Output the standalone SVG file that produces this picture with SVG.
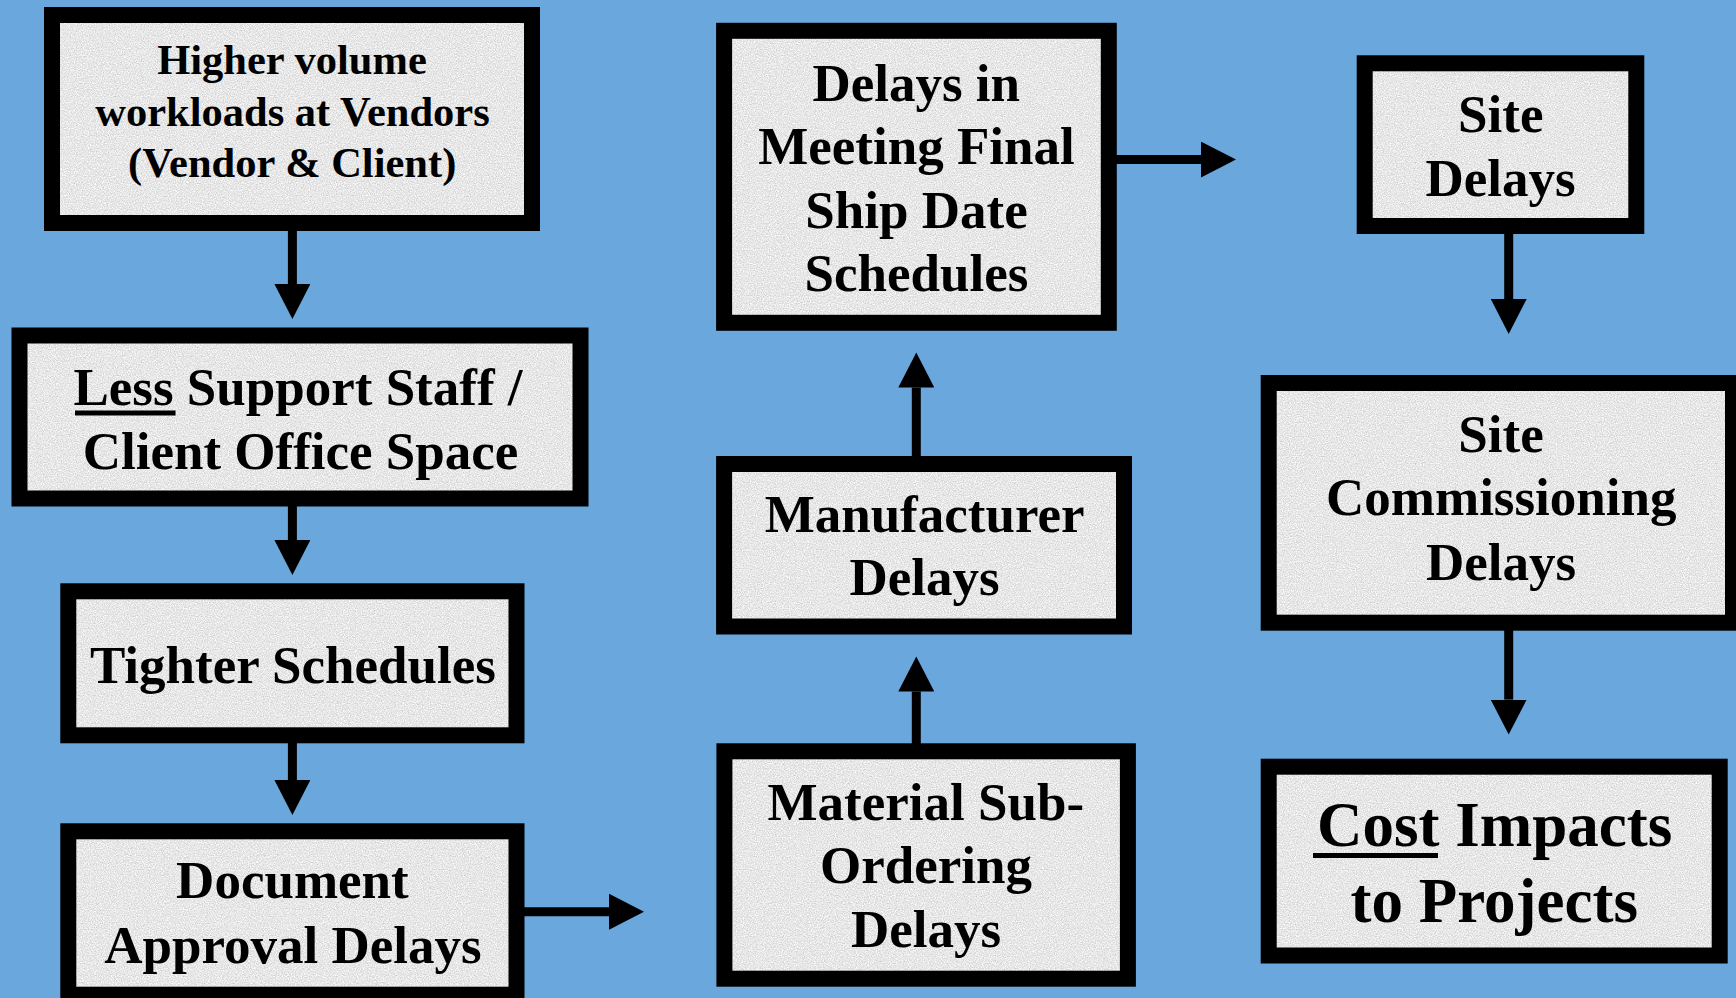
<svg xmlns="http://www.w3.org/2000/svg" width="1736" height="998" viewBox="0 0 1736 998">
<style>
.box{fill:none;stroke:#000;stroke-width:16}
.fill{fill:#e6e6e6;filter:url(#granite)}
.t{font-family:"Liberation Serif","Times New Roman",serif;font-weight:bold;fill:#000;text-anchor:middle}
.f42{font-size:42.5px}
.f53{font-size:53px}
.f63{font-size:63px}
.c{fill:none;stroke:#000;stroke-width:9;marker-end:url(#ah)}
.ul{stroke:#000;stroke-width:5}
</style>
<defs>
<filter id="granite" x="0" y="0" width="1" height="1" color-interpolation-filters="sRGB">
<feTurbulence type="fractalNoise" baseFrequency="0.85" numOctaves="2" seed="7" result="n"/>
<feColorMatrix in="n" type="matrix" values="0.32 0 0 0 0.745  0.32 0 0 0 0.745  0.32 0 0 0 0.745  0 0 0 0 1" result="g"/>
<feComposite in="g" in2="SourceGraphic" operator="in"/>
</filter>
<marker id="ah" markerUnits="userSpaceOnUse" markerWidth="36" markerHeight="36" refX="0" refY="18" orient="auto" viewBox="0 0 36 36">
<path d="M0,0 L35,18 L0,36 Z" fill="#000"/>
</marker>
</defs>
<rect x="0" y="0" width="1736" height="998" fill="#69a7dd"/>

<g id="connectors">
<path class="c" d="M292.4,231 V284"/>
<path class="c" d="M292.4,506 V540"/>
<path class="c" d="M292.4,743 V780"/>
<path class="c" d="M524,911.7 H609"/>
<path class="c" d="M916.3,744 V691.5"/>
<path class="c" d="M916.3,456 V387.5"/>
<path class="c" d="M1116,159.6 H1201"/>
<path class="c" d="M1508.7,234 V299"/>
<path class="c" d="M1508.7,630 V699.6"/>
</g>

<g id="node-higher-volume">
<rect class="fill" x="52" y="15" width="480" height="208"/>
<rect class="box" x="52" y="15" width="480" height="208"/>
<text class="t f42" x="292" y="74">Higher volume</text>
<text class="t f42" x="292.5" y="125.5">workloads at Vendors</text>
<text class="t f42" x="292.2" y="177">(Vendor &amp; Client)</text>
</g>

<g id="node-less-support">
<rect class="fill" x="19.5" y="335.5" width="561" height="163"/>
<rect class="box" x="19.5" y="335.5" width="561" height="163"/>
<text class="t f53" x="298" y="404.5">Less Support Staff /</text>
<line class="ul" x1="75" y1="413" x2="175.5" y2="413"/>
<text class="t f53" x="300.5" y="468.5">Client Office Space</text>
</g>

<g id="node-tighter">
<rect class="fill" x="68.3" y="591.3" width="448.2" height="144"/>
<rect class="box" x="68.3" y="591.3" width="448.2" height="144"/>
<text class="t f53" x="292.9" y="682.7">Tighter Schedules</text>
</g>

<g id="node-document">
<rect class="fill" x="68.3" y="831.3" width="448.2" height="163.4"/>
<rect class="box" x="68.3" y="831.3" width="448.2" height="163.4"/>
<text class="t f53" x="292.4" y="898.3">Document</text>
<text class="t f53" x="292.9" y="963.3">Approval Delays</text>
</g>

<g id="node-material">
<rect class="fill" x="724.4" y="751.3" width="403.5" height="227.4"/>
<rect class="box" x="724.4" y="751.3" width="403.5" height="227.4"/>
<text class="t f53" x="925.8" y="820">Material Sub-</text>
<text class="t f53" x="926.1" y="883.3">Ordering</text>
<text class="t f53" x="926.1" y="946.7">Delays</text>
</g>

<g id="node-manufacturer">
<rect class="fill" x="724.1" y="464" width="399.9" height="162.5"/>
<rect class="box" x="724.1" y="464" width="399.9" height="162.5"/>
<text class="t f53" x="924.6" y="531.8">Manufacturer</text>
<text class="t f53" x="924.5" y="594.8">Delays</text>
</g>

<g id="node-meeting-final">
<rect class="fill" x="724.1" y="30.8" width="384.7" height="292"/>
<rect class="box" x="724.1" y="30.8" width="384.7" height="292"/>
<text class="t f53" x="916.2" y="100.5">Delays in</text>
<text class="t f53" x="916.5" y="164">Meeting Final</text>
<text class="t f53" x="916.5" y="227.5">Ship Date</text>
<text class="t f53" x="916.5" y="291">Schedules</text>
</g>

<g id="node-site-delays">
<rect class="fill" x="1364.7" y="63.3" width="271.6" height="162.7"/>
<rect class="box" x="1364.7" y="63.3" width="271.6" height="162.7"/>
<text class="t f53" x="1500.8" y="132.3">Site</text>
<text class="t f53" x="1500.5" y="196">Delays</text>
</g>

<g id="node-site-commissioning">
<rect class="fill" x="1268.7" y="383" width="464.3" height="239.7"/>
<rect class="box" x="1268.7" y="383" width="464.3" height="239.7"/>
<text class="t f53" x="1501" y="451.6">Site</text>
<text class="t f53" x="1501.3" y="515">Commissioning</text>
<text class="t f53" x="1501" y="580">Delays</text>
</g>

<g id="node-cost-impacts">
<rect class="fill" x="1268.7" y="766.7" width="451" height="188.8"/>
<rect class="box" x="1268.7" y="766.7" width="451" height="188.8"/>
<text class="t f63" x="1494.7" y="846">Cost Impacts</text>
<line class="ul" x1="1313" y1="855.5" x2="1438" y2="855.5"/>
<text class="t f63" x="1494.3" y="922">to Projects</text>
</g>
</svg>
